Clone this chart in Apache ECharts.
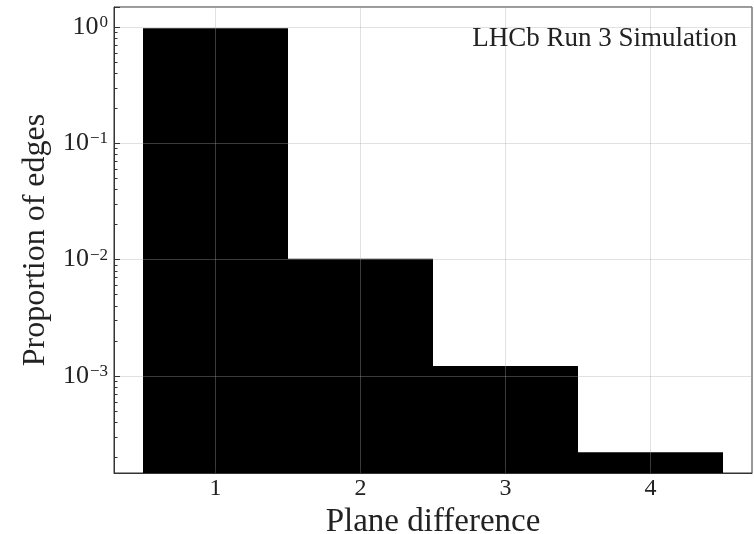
<!DOCTYPE html>
<html>
<head>
<meta charset="utf-8">
<script src="https://cdn.jsdelivr.net/npm/echarts@6/dist/echarts.min.js"></script>
<style>html,body{margin:0;padding:0;background:#fff;}#c{width:754px;height:534px;}</style>
</head>
<body>
<div id="c"></div>
<script>
const planeDiff = [1, 2, 3, 4];
const proportions = [0.975, 0.0102, 0.00122, 0.000221];
const xTicks = [1, 2, 3, 4];
const xTitle = 'Plane difference';
const yTitle = 'Proportion of edges';
const annotation = 'LHCb Run 3 Simulation';

const FONT = '"Liberation Serif", "Times New Roman", serif';
const Y_MIN = 1.466e-4, Y_MAX = 1.486;
const gridColor = 'rgba(170,170,170,0.35)';

const chart = echarts.init(document.getElementById('c'), null, {renderer: 'canvas'});
const sup = e => String(e).replace('-', '\u2212');
chart.setOption({
  animation: false,
  backgroundColor: '#fff',
  grid: {left: 114, top: 7, width: 638, height: 466, outerBoundsMode: 'none', containLabel: false,
    show: true, borderColor: '#333', borderWidth: 1, backgroundColor: 'transparent'},
  xAxis: {
    type: 'value', min: 0.3, max: 4.7, z: 5,
    axisLine: {show: true, lineStyle: {color: '#333'}},
    axisTick: {show: true, inside: true, length: 5, customValues: xTicks, lineStyle: {color: '#333'}},
    axisLabel: {customValues: xTicks, fontFamily: FONT, fontSize: 24, color: '#222', margin: 4},
    splitLine: {show: true, lineStyle: {color: gridColor, width: 1}},
    name: xTitle, nameLocation: 'middle', nameGap: 32,
    nameTextStyle: {fontFamily: FONT, fontSize: 33, color: '#222'}
  },
  yAxis: {
    type: 'log', logBase: 10, min: Y_MIN, max: Y_MAX, z: 5,
    axisLine: {show: true, lineStyle: {color: '#333'}},
    axisTick: {show: true, inside: true, length: 6, lineStyle: {color: '#333'}},
    minorTick: {show: true, splitNumber: 9, length: 3.5, lineStyle: {color: '#333'}},
    axisLabel: {
      showMinLabel: false, showMaxLabel: false, margin: 6,
      formatter: v => {
        const e = Math.round(Math.log10(v));
        if (Math.abs(Math.log10(v) - e) > 1e-6) return '';
        return '{b|10}{s|' + sup(e) + '}';
      },
      rich: {
        b: {fontFamily: FONT, fontSize: 26, color: '#222', verticalAlign: 'bottom', lineHeight: 26},
        s: {fontFamily: FONT, fontSize: 17, color: '#222', verticalAlign: 'top', lineHeight: 26, padding: [0, 0, 10, 1]}
      }
    },
    splitLine: {show: true, lineStyle: {color: gridColor, width: 1}},
    name: yTitle, nameLocation: 'middle', nameGap: 62, nameRotate: 90,
    nameTextStyle: {fontFamily: FONT, fontSize: 32, color: '#222'}
  },
  graphic: [{
    type: 'text', right: 17, top: 25, z: 10,
    style: {text: annotation, font: '27px ' + FONT, fill: '#222'}
  }],
  series: [{
    type: 'custom', z: 2,
    data: planeDiff.map((x, i) => [x, proportions[i]]),
    renderItem: (params, api) => {
      const x = api.value(0), v = api.value(1);
      const p0 = api.coord([x - 0.5, v]);
      const p1 = api.coord([x + 0.5, Y_MIN]);
      return {type: 'rect', shape: {x: p0[0], y: p0[1], width: p1[0] - p0[0], height: p1[1] - p0[1]},
        style: {fill: '#000'}};
    }
  }]
});
</script>
</body>
</html>
